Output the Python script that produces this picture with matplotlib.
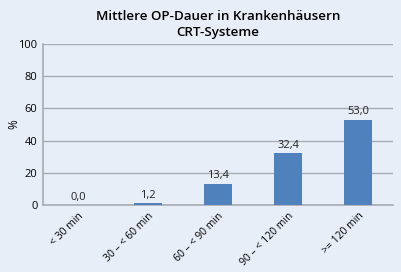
import matplotlib.pyplot as plt

# Daten
kategorien = ['< 30 min', '30 – < 60 min', '60 – < 90 min', '90 – < 120 min', '>= 120 min']
werte = [0.0, 1.2, 13.4, 32.4, 53.0]
y_ticks = [0, 20, 40, 60, 80, 100]

bg = '#e8eef8'
plt.rcParams['font.family'] = ['Open Sans', 'DejaVu Sans']

fig = plt.figure(figsize=(4.02, 2.72), dpi=100, facecolor=bg)
ax = fig.add_axes([0.107, 0.246, 0.871, 0.592], facecolor=bg)

x = range(len(kategorien))
ax.bar(x, werte, width=0.41, color='#4f81bd', zorder=3)

for xi, w in zip(x, werte):
    ax.text(xi, w + 1.5, f'{w:.1f}'.replace('.', ','), ha='center', va='bottom',
            fontsize=8, color='#222222')

ax.set_xlim(-0.5, len(kategorien) - 0.5)
ax.set_ylim(0, 100)
ax.set_yticks(y_ticks)
ax.yaxis.grid(True, color='#a8acb4', linewidth=1, zorder=0)
ax.set_xticks(list(x))
ax.set_xticklabels(kategorien, rotation=45, ha='right', rotation_mode='anchor', fontsize=7.5)
ax.tick_params(axis='y', labelsize=8, length=0, pad=4)
ax.tick_params(axis='x', length=0, pad=4)

for s in ['top', 'right']:
    ax.spines[s].set_visible(False)
ax.spines['left'].set_color('#a8acb4')
ax.spines['bottom'].set_color('#a8acb4')
ax.spines['left'].set_linewidth(1.2)
ax.spines['bottom'].set_linewidth(1.2)

ax.set_ylabel('%', fontsize=8.5)
ax.yaxis.set_label_coords(-0.065, 0.5)
ax.set_title('Mittlere OP-Dauer in Krankenhäusern\nCRT-Systeme', fontsize=9.6,
             fontweight='semibold', linespacing=1.25, pad=6)

fig.savefig('out.png', dpi=100, facecolor=bg)
